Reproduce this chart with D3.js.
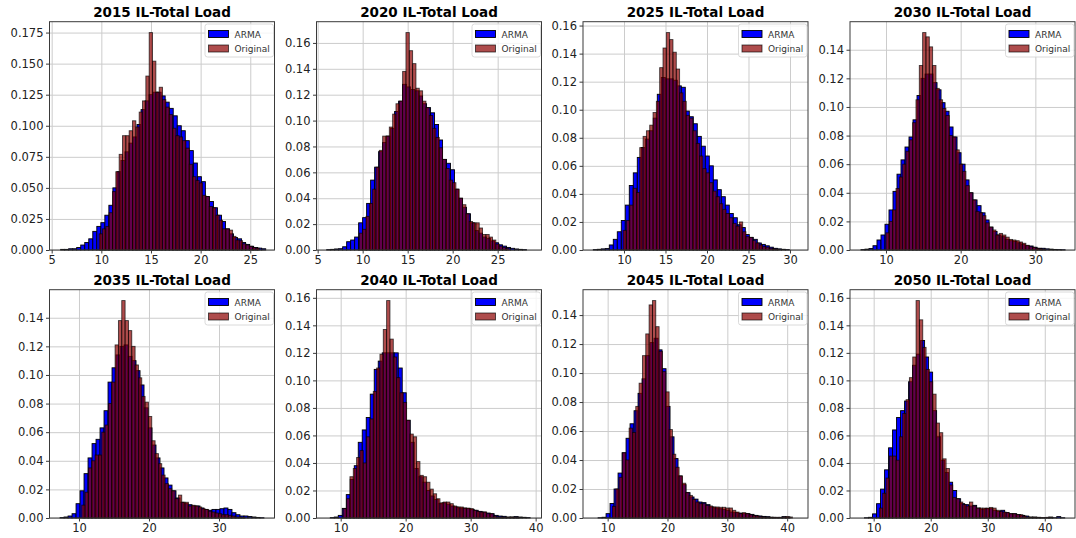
<!DOCTYPE html>
<html>
<head>
<meta charset="utf-8">
<script src="https://cdn.jsdelivr.net/npm/d3@7"></script>
<style>
  body { margin: 0; background: #fff; }
  svg { display: block; font-family: "DejaVu Sans", sans-serif; }
  .grid line { stroke: #cccccc; stroke-width: 1; }
  .tick-label { font-size: 11.5px; fill: #222; }
  .title { font-size: 13.5px; font-weight: bold; fill: #000; }
  .legend-text { font-size: 9px; fill: #333; }
</style>
</head>
<body>
<svg id="chart" width="1076" height="538"></svg>
<script>
// ---------- data (density per bin)

const years = ['2015', '2020', '2025', '2030', '2035', '2040', '2045', '2050'];

// first bin edge and bin width of each histogram
const armaStarts = [5.9, 6.0, 6.3, 6.65, 7.3, 8.4, 8.4, 8.4];
const armaSteps  = [0.405, 0.444, 0.482, 0.536, 0.571, 0.615, 0.668, 0.702];
const origStarts = [9.78, 9.63, 9.9, 10.0, 10.4, 10.4, 10.8, 11.0];
const origSteps  = [0.336, 0.37, 0.4, 0.446, 0.476, 0.513, 0.557, 0.585];

const arma2015 = [0.0005,0.0005,0.001,0.001,0.002,0.004,0.006,0.009,0.015,0.019,0.022,0.028,0.036,0.05,0.063,0.072,0.079,0.086,0.091,0.101,0.113,0.12,0.125,0.127,0.127,0.124,0.119,0.114,0.108,0.1,0.096,0.088,0.08,0.07,0.059,0.055,0.043,0.039,0.034,0.028,0.023,0.017,0.013,0.01,0.009,0.006,0.0045,0.003,0.002,0.0015,0.001];
const orig2015 = [0.013,0.017,0.019,0.03,0.047,0.063,0.077,0.092,0.092,0.096,0.104,0.099,0.111,0.12,0.14,0.175,0.152,0.127,0.131,0.121,0.115,0.109,0.098,0.092,0.091,0.088,0.082,0.069,0.059,0.056,0.054,0.044,0.043,0.035,0.034,0.028,0.024,0.017,0.017,0.016,0.011,0.008,0.0075,0.005,0.004,0.003,0.002,0.0015];

const arma2020 = [0.0003,0.0005,0.0008,0.001,0.0025,0.0064,0.0077,0.01,0.021,0.025,0.036,0.054,0.064,0.076,0.083,0.088,0.094,0.107,0.115,0.128,0.126,0.124,0.123,0.119,0.113,0.11,0.106,0.097,0.085,0.07,0.067,0.062,0.047,0.04,0.033,0.028,0.021,0.015,0.013,0.01,0.009,0.007,0.0056,0.004,0.003,0.002,0.0013,0.0008,0.0005,0.0003];
const orig2020 = [0.013,0.016,0.026,0.036,0.047,0.064,0.077,0.088,0.088,0.095,0.105,0.113,0.115,0.138,0.168,0.154,0.144,0.125,0.123,0.115,0.11,0.104,0.094,0.087,0.079,0.07,0.063,0.054,0.052,0.047,0.04,0.035,0.028,0.022,0.021,0.021,0.017,0.012,0.012,0.01,0.0077,0.0046,0.003,0.002,0.0013];

const arma2025 = [0.0003,0.0005,0.0008,0.001,0.0036,0.0076,0.013,0.021,0.032,0.046,0.055,0.066,0.073,0.079,0.085,0.094,0.111,0.123,0.122,0.122,0.121,0.117,0.116,0.099,0.095,0.09,0.081,0.074,0.067,0.06,0.05,0.043,0.038,0.032,0.026,0.023,0.018,0.016,0.011,0.009,0.0076,0.005,0.004,0.003,0.002,0.0012,0.0008,0.0005,0.0003];
const orig2025 = [0.014,0.021,0.032,0.044,0.041,0.073,0.081,0.085,0.089,0.098,0.106,0.13,0.144,0.155,0.15,0.141,0.129,0.112,0.106,0.096,0.094,0.085,0.076,0.067,0.058,0.055,0.048,0.042,0.038,0.033,0.029,0.026,0.023,0.019,0.017,0.02,0.013,0.0095,0.009,0.0067,0.005,0.0036,0.0024,0.002,0.0012,0.0008,0.0005];

const arma2030 = [0.0003,0.0006,0.001,0.003,0.007,0.0105,0.018,0.028,0.041,0.053,0.063,0.072,0.079,0.091,0.108,0.12,0.123,0.123,0.117,0.112,0.103,0.097,0.086,0.079,0.068,0.06,0.049,0.04,0.035,0.031,0.026,0.021,0.016,0.013,0.0105,0.0093,0.0074,0.0065,0.006,0.005,0.004,0.003,0.0028,0.0019,0.0012,0.0012,0.0008,0.0006,0.0004,0.0003,0.0002];
const orig2030 = [0.012,0.02,0.028,0.043,0.051,0.06,0.069,0.077,0.089,0.105,0.129,0.152,0.149,0.142,0.129,0.113,0.105,0.099,0.094,0.08,0.079,0.07,0.06,0.055,0.045,0.04,0.035,0.027,0.026,0.024,0.019,0.016,0.014,0.0105,0.0116,0.0105,0.009,0.0074,0.007,0.0065,0.0056,0.0047,0.0033,0.0023,0.0019,0.0012,0.0008,0.0005];

const arma2035 = [0.0003,0.0007,0.0014,0.003,0.01,0.019,0.031,0.042,0.052,0.055,0.063,0.075,0.095,0.105,0.114,0.12,0.121,0.113,0.11,0.103,0.093,0.077,0.063,0.051,0.042,0.035,0.028,0.023,0.019,0.014,0.011,0.01,0.0093,0.0084,0.0084,0.007,0.006,0.0054,0.006,0.006,0.0065,0.007,0.006,0.0037,0.0023,0.0014,0.0014,0.001,0.0007,0.0004,0.0002];
const orig2035 = [0.009,0.018,0.035,0.04,0.044,0.044,0.06,0.065,0.08,0.095,0.121,0.138,0.152,0.138,0.131,0.12,0.107,0.098,0.085,0.081,0.071,0.054,0.045,0.038,0.03,0.024,0.0205,0.019,0.0135,0.016,0.011,0.011,0.0084,0.0089,0.0084,0.0077,0.0065,0.006,0.0047,0.0042,0.0035,0.003,0.0023,0.0023,0.0019,0.0014,0.0007,0.0005,0.0003];

const arma2040 = [0.0003,0.0007,0.0019,0.007,0.017,0.028,0.038,0.055,0.064,0.073,0.09,0.108,0.114,0.12,0.12,0.12,0.12,0.109,0.091,0.071,0.055,0.036,0.03,0.026,0.02,0.016,0.0135,0.0104,0.011,0.01,0.0087,0.008,0.0072,0.0072,0.0068,0.0063,0.0056,0.0048,0.0043,0.0036,0.0031,0.0019,0.0014,0.0012,0.0007,0.0007,0.001,0.0007,0.0005,0.0003];
const orig2040 = [0.0068,0.014,0.03,0.036,0.044,0.049,0.04,0.059,0.072,0.092,0.109,0.119,0.137,0.158,0.13,0.117,0.102,0.091,0.084,0.071,0.061,0.059,0.041,0.031,0.03,0.026,0.021,0.0176,0.014,0.011,0.0116,0.0116,0.0104,0.0087,0.008,0.008,0.0072,0.0072,0.0068,0.0056,0.0048,0.0043,0.0043,0.0031,0.0031,0.0014,0.0007,0.0007,0.0005,0.0005,0.0007,0.0005,0.0003];

const arma2045 = [0.0002,0.0005,0.003,0.01,0.02,0.031,0.045,0.055,0.065,0.074,0.086,0.096,0.112,0.121,0.124,0.116,0.103,0.077,0.056,0.041,0.029,0.023,0.0175,0.0145,0.013,0.011,0.0106,0.0092,0.0076,0.0069,0.0064,0.006,0.0053,0.0041,0.0037,0.0034,0.003,0.003,0.0025,0.0018,0.0014,0.0011,0.0009,0.0005,0.0002,0.0002,0.0009,0.0007];
const orig2045 = [0.008,0.02,0.028,0.045,0.04,0.062,0.059,0.077,0.093,0.112,0.127,0.147,0.15,0.132,0.115,0.101,0.087,0.061,0.044,0.035,0.029,0.024,0.0175,0.0156,0.0129,0.011,0.0099,0.0099,0.0087,0.0083,0.0076,0.0076,0.0074,0.0074,0.0069,0.0069,0.0053,0.0041,0.003,0.0037,0.003,0.0023,0.0018,0.0014,0.0009,0.0007,0.0005,0.0005,0.0005,0.0005,0.0005,0.0007,0.0009,0.0007];

const arma2050 = [0.0002,0.0005,0.003,0.0104,0.021,0.035,0.051,0.064,0.073,0.078,0.085,0.099,0.111,0.119,0.129,0.117,0.106,0.078,0.059,0.042,0.033,0.026,0.02,0.014,0.0104,0.0097,0.0087,0.0092,0.0072,0.0063,0.0068,0.0068,0.0056,0.0048,0.0056,0.0039,0.0031,0.0031,0.0024,0.0019,0.0014,0.0007,0.0007,0.0005,0.0002,0.0002,0.0007,0.0002,0.001,0.0002];
const orig2050 = [0.0072,0.018,0.029,0.045,0.045,0.042,0.059,0.076,0.086,0.102,0.117,0.158,0.144,0.124,0.108,0.099,0.09,0.069,0.062,0.043,0.036,0.024,0.015,0.014,0.0116,0.0097,0.0087,0.0116,0.0087,0.0072,0.0072,0.0072,0.0072,0.0077,0.0072,0.0056,0.0048,0.0043,0.0039,0.0031,0.0031,0.0024,0.0024,0.0014,0.0007,0.0005,0.0005,0.0003,0.0003,0.0002,0.0005,0.0003];

const armaSeries = [arma2015, arma2020, arma2025, arma2030, arma2035, arma2040, arma2045, arma2050];
const origSeries = [orig2015, orig2020, orig2025, orig2030, orig2035, orig2040, orig2045, orig2050];

// axis limits and tick spacing
const xLimits = [[4.78, 27.44], [4.87, 29.87], [5.06, 32.17], [5.18, 35.31],
                 [5.79, 37.93], [6.28, 40.9], [5.88, 43.48], [5.85, 45.3]];
const xTickSteps = [5, 5, 5, 10, 10, 10, 10, 10];
const yTickSteps = [0.025, 0.02, 0.02, 0.02, 0.02, 0.02, 0.02, 0.02];
const yTickDecimals = [3, 2, 2, 2, 2, 2, 2, 2];

const seriesNames = ['ARMA', 'Original'];

// ---------- layout

const svg = d3.select('#chart');
svg.append('rect').attr('width', 1076).attr('height', 538).attr('fill', '#fff');

const colLeft = [49.5, 316.5, 583, 850];
const rowTop = [21.7, 289.7];
const axW = 225, axH = 228.3;

const armaColor = '#0000ff';
const origColor = '#8b0000';
const origAlpha = 0.7;

// builds one histogram as a list of {x0, x1, v}
const toBins = (vals, start, step) =>
  vals.map((v, i) => ({x0: start + i * step, x1: start + (i + 1) * step, v: v}));

years.forEach((year, p) => {
  const left = colLeft[p % 4], top = rowTop[Math.floor(p / 4)];
  const g = svg.append('g').attr('transform', `translate(${left}, ${top})`);

  const armaBins = toBins(armaSeries[p], armaStarts[p], armaSteps[p]);
  const origBins = toBins(origSeries[p], origStarts[p], origSteps[p]);
  const yMax = d3.max(armaBins.concat(origBins), d => d.v) * 1.05;

  const xScale = d3.scaleLinear().domain(xLimits[p]).range([0, axW]);
  const yScale = d3.scaleLinear().domain([0, yMax]).range([axH, 0]);

  const xs = xTickSteps[p];
  const xTicks = d3.range(Math.ceil(xLimits[p][0] / xs) * xs, xLimits[p][1] + 1e-9, xs);
  const yTicks = d3.range(0, yMax + 1e-9, yTickSteps[p]);
  const yFmt = d3.format(`.${yTickDecimals[p]}f`);

  // gridlines, under the bars
  g.append('g')
    .attr('class', 'grid')
    .attr('transform', `translate(0, ${axH})`)
    .call(d3.axisBottom(xScale).tickValues(xTicks).tickSize(-axH).tickFormat(''))
    .call(a => a.select('.domain').remove());

  g.append('g')
    .attr('class', 'grid')
    .call(d3.axisLeft(yScale).tickValues(yTicks).tickSize(-axW).tickFormat(''))
    .call(a => a.select('.domain').remove());

  const plot = g.append('g');

  // ARMA histogram
  plot.selectAll('rect.arma')
    .data(armaBins)
    .join('rect')
    .attr('class', 'arma')
    .attr('x', d => xScale(d.x0))
    .attr('width', d => xScale(d.x1) - xScale(d.x0))
    .attr('y', d => yScale(d.v))
    .attr('height', d => axH - yScale(d.v))
    .attr('fill', armaColor)
    .attr('stroke', '#000')
    .attr('stroke-width', 0.9);

  // Original histogram, semi transparent on top
  plot.selectAll('rect.orig')
    .data(origBins)
    .join('rect')
    .attr('class', 'orig')
    .attr('x', d => xScale(d.x0))
    .attr('width', d => xScale(d.x1) - xScale(d.x0))
    .attr('y', d => yScale(d.v))
    .attr('height', d => axH - yScale(d.v))
    .attr('fill', origColor)
    .attr('fill-opacity', origAlpha)
    .attr('stroke', '#000')
    .attr('stroke-opacity', origAlpha)
    .attr('stroke-width', 0.9);

  // frame
  g.append('rect')
    .attr('width', axW).attr('height', axH)
    .attr('fill', 'none').attr('stroke', '#3a3a3a').attr('stroke-width', 1);

  // tick marks and labels
  const xAxis = g.append('g').attr('transform', `translate(0, ${axH})`)
    .call(d3.axisBottom(xScale).tickValues(xTicks).tickSize(3.5).tickPadding(2.5).tickFormat(d3.format('d')));
  xAxis.select('.domain').remove();
  xAxis.selectAll('line').attr('stroke', '#3a3a3a');
  xAxis.selectAll('text').attr('class', 'tick-label').attr('fill', null)
    .style('font-family', '"DejaVu Sans", sans-serif');

  const yAxis = g.append('g')
    .call(d3.axisLeft(yScale).tickValues(yTicks).tickSize(3.5).tickPadding(2.5).tickFormat(yFmt));
  yAxis.select('.domain').remove();
  yAxis.selectAll('line').attr('stroke', '#3a3a3a');
  yAxis.selectAll('text').attr('class', 'tick-label').attr('fill', null)
    .style('font-family', '"DejaVu Sans", sans-serif');

  // title
  g.append('text')
    .attr('class', 'title')
    .attr('x', axW / 2)
    .attr('y', -5)
    .attr('text-anchor', 'middle')
    .text(`${year} IL-Total Load`);

  // legend
  const lg = g.append('g').attr('transform', `translate(${axW - 69.5}, 2.3)`);
  lg.append('rect')
    .attr('width', 68.5).attr('height', 33).attr('rx', 2.5)
    .attr('fill', '#fff').attr('fill-opacity', 0.8)
    .attr('stroke', '#d0d0d0').attr('stroke-width', 0.8);

  seriesNames.forEach((name, i) => {
    const ly = 6.5 + i * 14.5;
    lg.append('rect')
      .attr('x', 3.5).attr('y', ly).attr('width', 20).attr('height', 7)
      .attr('fill', i === 0 ? armaColor : origColor)
      .attr('fill-opacity', i === 0 ? 1 : origAlpha)
      .attr('stroke', '#000')
      .attr('stroke-opacity', i === 0 ? 1 : origAlpha)
      .attr('stroke-width', 0.9);
    lg.append('text')
      .attr('class', 'legend-text')
      .attr('x', 29.5).attr('y', ly + 7)
      .text(name);
  });
});
</script>
</body>
</html>
